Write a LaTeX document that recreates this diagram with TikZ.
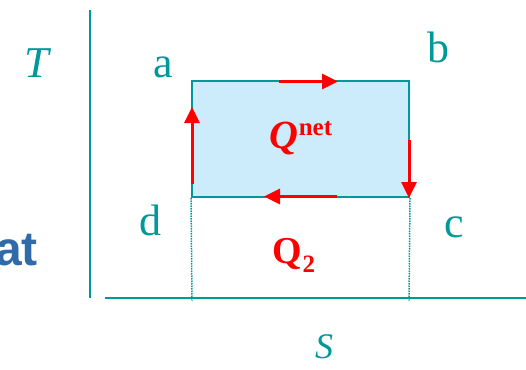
\documentclass[tikz,border=0pt]{standalone}
\usepackage{fontspec}
\setmainfont{Liberation Serif}
\newfontfamily\sansbold{Liberation Sans}
\usetikzlibrary{arrows.meta}
\definecolor{teal1}{RGB}{0,153,153}
\definecolor{fillblue}{RGB}{204,236,251}
\definecolor{redq}{RGB}{255,0,0}
\definecolor{bluetxt}{RGB}{47,107,168}
\tikzset{
  axis/.style={draw=teal1, line width=2pt},
  guide/.style={draw=teal1, line width=1.5pt, densely dotted},
  flow/.style={draw=redq, line width=3pt, -{Triangle[length=16pt,width=15pt]}},
  lbl/.style={text=teal1, font=\fontsize{44}{48}\selectfont, anchor=base, inner sep=0pt},
  qlbl/.style={text=redq, anchor=base, inner sep=0pt}
}
\begin{document}
\begin{tikzpicture}[x=1pt,y=-1pt]
\useasboundingbox (0,0) rectangle (526,369);
% axes
\coordinate (ytop) at (90,10);
\coordinate (ybot) at (90,298);
\coordinate (xl) at (105,298);
\coordinate (xr) at (526,298);
\draw[axis] (ytop) -- (ybot);
\draw[axis] (xl) -- (xr);
% cycle box
\node[draw=teal1, fill=fillblue, line width=2pt, minimum width=217pt, minimum height=116pt, inner sep=0pt] (box) at (300.5,139) {};
% dotted guides
\coordinate (gl) at (192,301);
\coordinate (gr) at (409,301);
\draw[guide] (box.south west) -- (gl);
\draw[guide] (box.south east) -- (gr);
% arrows
\coordinate (t1) at (279,81.5); \coordinate (t2) at (338,81.5);
\coordinate (r1) at (409,140); \coordinate (r2) at (409,198);
\coordinate (b1) at (337,196.5); \coordinate (b2) at (264,196.5);
\coordinate (l1) at (192,184); \coordinate (l2) at (192,107);
\draw[flow] (t1) -- (t2);
\draw[flow] (r1) -- (r2);
\draw[flow] (b1) -- (b2);
\draw[flow] (l1) -- (l2);
% labels
\node[lbl, font=\fontsize{44}{48}\selectfont\itshape] (T) at (37,77) {T};
\node[lbl] (la) at (163,77) {a};
\node[lbl] (lb) at (438,63) {b};
\node[lbl] (ld) at (150,235) {d};
\node[lbl] (lc) at (454,237) {c};
\node[lbl, font=\fontsize{36}{40}\selectfont\itshape] (S) at (324,358) {S};
\node[qlbl, font=\fontsize{40}{44}\selectfont\bfseries] (qnet) at (301,148) {\textit{Q}\raisebox{13pt}{\fontsize{25}{28}\selectfont net}};
\node[qlbl, font=\fontsize{38}{42}\selectfont\bfseries] (q2) at (294,263) {Q\raisebox{-9pt}{\fontsize{25}{28}\selectfont 2}};
\node[text=bluetxt, font=\fontsize{48}{52}\sansbold\bfseries, anchor=base east, inner sep=0pt] (heat) at (38,265) {at};
\end{tikzpicture}
\end{document}
